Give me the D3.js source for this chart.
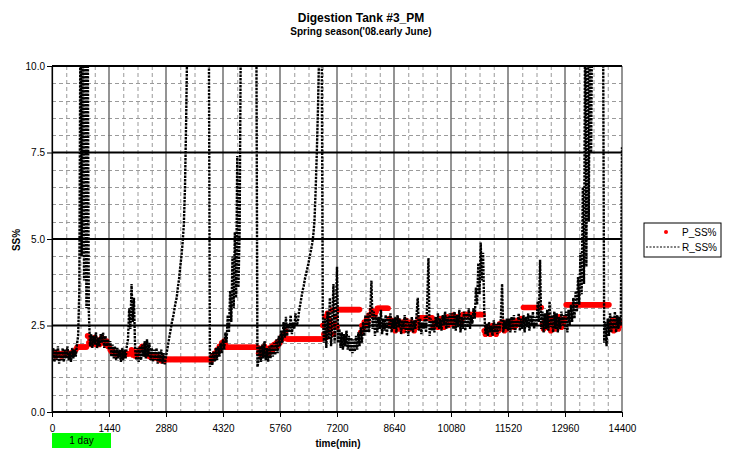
<!DOCTYPE html>
<html><head><meta charset="utf-8">
<script src="https://cdn.jsdelivr.net/npm/d3@7"></script>
<style>body{margin:0;background:#fff;}svg{display:block;font-family:"Liberation Sans",Arial,sans-serif;}</style>
</head><body><svg id="c" width="731" height="450"></svg>
<script>
// ---- data ----
const chartTitle = "Digestion Tank #3_PM";
const chartSubtitle = "Spring season('08.early June)";
const xTickValues = [0,1440,2880,4320,5760,7200,8640,10080,11520,12960,14400];
const yTickValues = [0,2.5,5,7.5,10];
const seriesNames = ["P_SS%","R_SS%"];
const sampleStepMin = 30; // one value every 30 min, starting at t=0
const rValues = [
 1.55,1.85,1.45,1.8,1.5,1.9,1.4,1.75,1.5,1.85,1.45,1.8,1.55,1.9,1.5,1.75,1.45,1.85,1.55,1.8,1.6,1.95,
 2.2,3.5,
 12,4.5,12,3.8,12,3.0,12,
 2.9,1.9,2.25,1.85,2.2,1.95,2.3,1.85,2.15,1.9,2.25,2.0,2.3,1.85,2.2,1.9,2.1,
 1.8,2.05,1.6,1.95,1.55,1.9,1.5,1.85,1.55,1.8,1.45,1.85,1.5,1.8,1.55,1.9,
 2.1,3.0,2.4,3.7,2.6,3.3,1.8,
 1.5,1.85,1.45,1.9,1.5,1.95,1.6,2.05,1.55,2.1,1.6,2.0,1.5,1.85,1.45,1.8,1.5,1.85,1.4,1.75,1.45,1.8,1.4,1.7,1.38,
 1.6,1.8,2.0,2.2,2.4,2.6,2.75,2.95,3.15,3.3,3.6,3.85,4.2,4.5,4.9,5.4,6.5,8.5,11,
 12,12,12,12,12,12,12,12,12,12,12,12,12,12,12,12,12,12,
 1.3,
 1.7,1.35,1.75,1.45,1.85,1.5,1.9,1.6,2.0,1.7,
 2.1,1.8,2.3,2.0,2.8,2.3,3.5,2.6,4.5,3.0,5.2,3.3,7.4,3.6,5.2,11,
 12,12,12,12,12,12,12,12,12,12,12,12,12,
 1.3,
 1.5,1.9,1.45,1.95,1.55,2.05,1.5,1.85,1.45,1.9,1.55,1.95,1.6,2.0,1.65,2.1,1.7,2.2,
 1.9,2.35,2.0,2.6,2.15,2.75,2.2,2.55,2.3,2.8,2.25,2.6,2.4,2.85,2.5,
 2.6,2.9,3.1,3.3,3.5,3.65,3.85,4.0,4.15,4.3,4.5,4.65,4.85,5.1,5.5,6.4,7.5,8.8,10.5,12,12,
 2.9,
 2.0,2.7,1.85,2.9,2.1,3.3,1.9,2.6,3.7,2.0,2.8,
 4.2,
 2.0,2.4,1.85,2.3,1.8,2.25,1.9,2.35,1.8,2.2,1.75,2.15,1.7,2.1,1.75,
 2.2,1.8,2.3,1.9,2.45,2.0,2.6,2.2,2.8,2.3,
 2.85,2.3,2.9,3.8,2.4,2.9,2.2,2.8,2.3,2.75,2.4,2.95,2.25,2.7,2.35,2.8,2.2,2.75,2.4,2.85,2.3,2.7,
 2.4,2.75,2.3,2.8,2.45,2.7,2.25,2.65,2.4,2.8,2.3,2.7,2.2,2.6,2.35,2.75,2.3,2.65,2.4,2.8,
 3.3,2.35,2.7,2.25,2.6,2.4,2.75,2.3,3.2,4.45,2.2,2.7,2.35,2.65,2.3,2.75,2.45,2.85,2.4,2.7,
 2.35,2.8,2.5,2.9,2.4,2.75,2.45,2.85,
 2.5,2.85,2.4,2.9,2.35,2.8,2.45,2.95,2.3,2.75,2.4,2.9,2.35,2.85,2.45,3.0,2.4,2.8,2.55,
 3.0,2.7,3.6,3.1,4.3,3.4,4.9,3.8,4.6,2.9,
 2.25,2.55,2.2,2.6,2.3,2.5,2.2,2.65,2.3,2.55,2.25,2.6,2.35,2.7,3.7,2.3,2.65,2.4,2.7,
 2.35,2.7,2.3,2.75,2.4,2.8,2.3,2.65,2.45,2.85,2.35,2.7,2.4,2.8,2.3,2.75,2.45,2.85,2.35,2.8,2.5,2.9,2.4,2.75,2.5,
 3.2,2.6,4.4,2.4,
 2.9,2.3,2.85,2.4,2.95,2.35,3.2,2.45,2.8,2.3,2.9,2.4,2.85,2.3,2.75,2.4,2.9,2.5,2.8,
 2.4,2.9,2.3,2.95,2.5,3.1,2.6,3.3,2.7,3.5,2.9,3.9,3.1,4.6,3.4,6.5,3.7,12,4.2,12,5.5,12,7.5,12,
 12,12,12,12,12,12,12,12,12,
 2.0,
 2.6,1.9,2.7,2.2,2.85,2.3,2.75,2.4,2.9,2.3,2.8,2.4,2.75,2.5,
 7.65
];
const pValues = [
 1.7,1.65,1.72,1.62,1.68,1.64,1.7,1.66,1.62,1.7,1.64,1.68,1.72,1.64,1.68,1.7,1.66,1.72,1.68,1.74,1.8,1.86,
 1.88,1.88,1.88,1.88,1.88,1.88,1.88,1.88,
 2.2,2.0,2.1,1.95,2.05,2.0,2.15,1.95,2.05,2.05,1.95,2.1,2.15,2.0,2.05,1.95,2.05,1.9,1.9,1.8,1.75,1.8,1.72,
 1.68,1.68,1.68,1.68,1.68,1.68,1.68,1.68,1.68,1.68,1.68,1.68,1.68,
 1.7,1.8,1.65,1.75,1.62,1.7,1.66,1.76,1.8,1.85,1.9,1.8,1.75,1.66,1.7,1.62,1.66,1.58,1.65,1.6,1.56,1.64,1.56,1.6,1.52,1.56,1.48,1.56,1.52,1.5,
 1.52,1.52,1.52,1.52,1.52,1.52,1.52,1.52,1.52,1.52,
 1.52,1.52,1.52,1.52,1.52,1.52,1.52,1.52,1.52,1.52,
 1.52,1.52,1.52,1.52,1.52,1.52,1.52,1.52,1.52,1.52,
 1.52,1.52,1.52,1.52,1.52,1.52,1.52,1.52,
 1.48,1.6,1.55,1.7,1.65,1.8,1.75,1.9,1.85,2.0,1.9,2.05,1.95,
 1.87,1.87,1.87,1.87,1.87,1.87,1.87,1.87,1.87,1.87,
 1.87,1.87,1.87,1.87,1.87,1.87,1.87,1.87,1.87,1.87,
 1.87,1.87,1.87,1.87,1.87,1.87,1.87,
 1.7,1.8,1.65,1.85,1.75,1.9,1.7,1.8,1.65,1.85,1.75,1.9,1.8,1.95,1.85,2.0,1.9,2.05,2.0,2.15,2.1,2.25,2.15,2.35,
 2.11,2.11,2.11,2.11,2.11,2.11,2.11,2.11,2.11,2.11,
 2.11,2.11,2.11,2.11,2.11,2.11,2.11,2.11,2.11,2.11,
 2.11,2.11,2.11,2.11,2.11,2.11,2.11,2.11,2.11,2.11,
 2.5,2.25,2.75,2.15,2.85,2.35,2.65,2.45,2.95,2.25,2.55,2.75,2.45,
 2.96,2.96,2.96,2.96,2.96,2.96,2.96,2.96,2.96,2.96,
 2.96,2.96,2.96,2.96,2.96,2.96,2.96,2.96,2.96,
 2.3,2.5,2.4,2.6,2.5,2.7,2.6,2.8,2.8,2.95,2.85,2.9,
 2.8,2.9,
 3.0,3.0,3.0,3.0,3.0,3.0,3.0,3.0,3.0,3.0,
 2.7,2.55,2.65,2.45,2.6,2.35,2.5,2.65,2.4,2.55,2.45,2.6,2.35,2.5,2.65,2.45,2.55,2.4,2.6,2.45,2.55,2.35,2.5,2.6,2.45,
 2.72,2.72,2.72,2.72,2.72,2.72,2.72,2.72,2.72,2.72,2.72,2.72,
 2.45,2.6,2.5,2.65,2.45,2.55,2.7,2.5,2.6,2.45,2.65,2.55,2.75,2.5,2.6,2.7,2.55,2.8,2.65,2.55,2.75,2.6,2.7,2.55,2.65,
 2.82,2.82,2.82,2.82,2.82,2.82,2.82,2.82,2.82,2.82,
 2.82,2.82,2.82,2.82,2.82,2.82,2.82,2.82,
 2.35,2.25,2.4,2.3,2.45,2.25,2.35,2.5,2.3,2.4,2.25,2.45,2.35,2.55,2.4,2.45,2.6,2.35,2.5,2.4,2.55,2.45,2.6,2.5,2.65,2.45,2.55,2.5,2.65,2.55,2.6,2.7,2.65,
 3.02,3.02,3.02,3.02,3.02,3.02,3.02,3.02,3.02,3.02,
 3.02,3.02,3.02,3.02,3.02,3.02,
 2.55,2.4,2.65,2.45,2.75,2.5,2.6,2.35,2.7,2.45,2.55,2.4,2.65,2.5,2.75,2.55,2.45,2.65,2.6,2.7,
 3.1,3.1,3.1,3.1,3.1,3.1,3.1,3.1,3.1,3.1,
 3.1,3.1,3.1,3.1,3.1,3.1,3.1,3.1,3.1,3.1,
 3.1,3.1,3.1,3.1,3.1,3.1,3.1,3.1,3.1,3.1,
 3.1,3.1,3.1,3.1,3.1,3.1,3.1,
 2.55,2.4,2.65,2.35,2.6,2.45,2.65,2.4,2.55,2.5,2.6
];

// ---- layout ----
const svg = d3.select("#c");
const W = 731, H = 450;
const x = d3.scaleLinear().domain([0,14400]).range([52,622]);
const y = d3.scaleLinear().domain([0,10]).range([412,66]);
const toPts = arr => arr.map((v,i)=>({t:i*sampleStepMin, v}));
const rPts = toPts(rValues), pPts = toPts(pValues);

svg.append("rect").attr("width",W).attr("height",H).attr("fill","#fff");

svg.append("defs").append("clipPath").attr("id","clip")
  .append("rect").attr("x",52).attr("y",65).attr("width",570).attr("height",347);

const grid = svg.append("g");
// minor grid
const xMinor = d3.range(0,14401,360).filter(d=>d%1440!==0);
const yMinor = d3.range(0,10.01,0.5).filter(d=>Math.abs(d/2.5-Math.round(d/2.5))>1e-6);
grid.selectAll(".vx").data(xMinor).join("line")
  .attr("x1",d=>x(d)+0.5).attr("x2",d=>x(d)+0.5).attr("y1",y(10)).attr("y2",y(0))
  .attr("stroke","#9a9a9a").attr("stroke-width",1).attr("stroke-dasharray","4,3");
grid.selectAll(".hy").data(yMinor).join("line")
  .attr("x1",x(0)).attr("x2",x(14400)).attr("y1",d=>Math.round(y(d))+0.5).attr("y2",d=>Math.round(y(d))+0.5)
  .attr("stroke","#9a9a9a").attr("stroke-width",1).attr("stroke-dasharray","4,3");
// major grid
grid.selectAll(".vX").data(xTickValues).join("line")
  .attr("x1",d=>x(d)).attr("x2",d=>x(d)).attr("y1",y(10)).attr("y2",y(0))
  .attr("stroke","#707070").attr("stroke-width",1.5);
grid.selectAll(".hY").data(yTickValues).join("line")
  .attr("x1",x(0)).attr("x2",x(14400)).attr("y1",d=>y(d)).attr("y2",d=>y(d))
  .attr("stroke","#000").attr("stroke-width",2);

const plot = svg.append("g").attr("clip-path","url(#clip)");
// P_SS% red points
plot.selectAll(".p").data(pPts.filter(d=>d.v!=null)).join("circle")
  .attr("cx",d=>x(d.t)).attr("cy",d=>y(d.v)).attr("r",2.8).attr("fill","#ff0000");
// R_SS% dotted line
const line = d3.line().x(d=>x(d.t)).y(d=>y(d.v));
plot.append("path").datum(rPts).attr("d",line)
  .attr("fill","none").attr("stroke","#000").attr("stroke-width",2.4)
  .attr("stroke-dasharray","2.4,1.1");

// axes
const yAxis = d3.axisLeft(y).tickValues(yTickValues).tickFormat(d3.format(".1f")).tickSize(5).tickSizeOuter(0).tickPadding(2);
const gy = svg.append("g").attr("transform","translate(52,0)").call(yAxis);
const xAxis = d3.axisBottom(x).tickValues(xTickValues).tickFormat(d3.format("d")).tickSize(5).tickSizeOuter(0).tickPadding(8);
const gx = svg.append("g").attr("transform","translate(0,412)").call(xAxis);
[gx,gy].forEach(g=>{
  g.selectAll("text").attr("font-size",10).attr("fill","#000").attr("font-family","Liberation Sans, Arial, sans-serif");
  g.selectAll("line").attr("stroke","#000");
  g.select(".domain").attr("stroke","#000").attr("stroke-width",1.2);
});

// titles
svg.append("text").attr("x",361).attr("y",22).attr("text-anchor","middle")
  .attr("font-size",12).attr("font-weight","bold").text(chartTitle);
svg.append("text").attr("x",361).attr("y",35).attr("text-anchor","middle")
  .attr("font-size",10).attr("font-weight","bold").text(chartSubtitle);
svg.append("text").attr("transform","translate(20,240) rotate(-90)").attr("text-anchor","middle")
  .attr("font-size",10).attr("font-weight","bold").text("SS%");
svg.append("text").attr("x",338).attr("y",447).attr("text-anchor","middle")
  .attr("font-size",10).attr("font-weight","bold").text("time(min)");

// 1 day box
svg.append("rect").attr("x",x(0)).attr("y",433).attr("width",x(1440)-x(0)+2).attr("height",15).attr("fill","#00ff00");
svg.append("text").attr("x",(x(0)+x(1440))/2+1).attr("y",444).attr("text-anchor","middle")
  .attr("font-size",10).text("1 day");

// legend
const lg = svg.append("g").attr("transform","translate(644,223)");
lg.append("rect").attr("width",77).attr("height",34).attr("fill","#fff").attr("stroke","#000").attr("stroke-width",1);
lg.append("circle").attr("cx",22).attr("cy",9).attr("r",2).attr("fill","#ff0000");
lg.append("text").attr("x",38).attr("y",13).attr("font-size",10).text(seriesNames[0]);
lg.append("line").attr("x1",2).attr("x2",37).attr("y1",24).attr("y2",24)
  .attr("stroke","#000").attr("stroke-width",1).attr("stroke-dasharray","2,1.5");
lg.append("text").attr("x",38).attr("y",28).attr("font-size",10).text(seriesNames[1]);
</script></body></html>
